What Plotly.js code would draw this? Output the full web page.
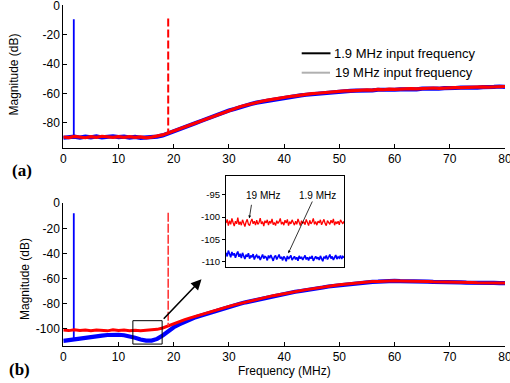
<!DOCTYPE html>
<html>
<head>
<meta charset="utf-8">
<script src="https://cdn.plot.ly/plotly-3.0.1.min.js"></script>
<style>html,body{margin:0;padding:0;background:#fff;}#chart{width:510px;height:383px;}</style>
</head>
<body>
<div id="chart"></div>
<script>
// ---- data ----
var freq = [0,1,2,3,4,5,6,7,8,9,10,11,12,13,14,15,16,17,18,19,20,21,22,23,24,25,26,27,28,29,30,31,32,33,34,35,36,37,38,39,40,41,42,43,44,45,46,47,48,49,50,51,52,53,54,55,56,57,58,59,60,61,62,63,64,65,66,67,68,69,70,71,72,73,74,75,76,77,78,79,80];

// (a) 1.9 MHz input (blue) and 19 MHz input (red)
var topBlue = [-90.2,-89.6,-89.5,-90.1,-89.4,-89.9,-89.3,-90.0,-89.5,-89.2,-89.8,-89.4,-90.1,-89.6,-90.3,-89.9,-90.2,-89.4,-88.6,-87.3,-85.8,-84.6,-83.0,-81.6,-80.1,-78.7,-77.2,-75.9,-74.4,-73.0,-71.6,-70.6,-69.3,-68.4,-67.2,-66.3,-65.6,-64.9,-64.1,-63.6,-62.9,-62.4,-61.9,-61.3,-60.9,-60.5,-60.0,-59.8,-59.3,-59.0,-58.7,-58.6,-58.3,-58.1,-58.2,-57.8,-57.9,-57.5,-57.7,-57.4,-57.5,-57.2,-57.3,-57.0,-57.2,-56.8,-56.9,-56.6,-56.8,-56.4,-56.6,-56.3,-56.1,-56.3,-55.9,-56.1,-55.7,-55.9,-55.6,-55.3,-55.5];
var topRed = [-89.7,-90.1,-89.3,-89.8,-90.2,-89.5,-89.9,-89.2,-89.7,-90.0,-89.4,-89.9,-89.5,-90.0,-89.6,-90.3,-89.8,-89.1,-88.3,-87.0,-85.6,-84.3,-82.7,-81.4,-79.8,-78.5,-77.0,-75.6,-74.2,-72.8,-71.4,-70.3,-69.1,-68.1,-67.0,-66.1,-65.3,-64.6,-63.9,-63.3,-62.7,-62.1,-61.7,-61.1,-60.7,-60.2,-59.9,-59.5,-59.2,-58.8,-58.6,-58.3,-58.2,-57.9,-57.9,-57.6,-57.7,-57.3,-57.5,-57.1,-57.3,-57.0,-57.1,-56.8,-56.9,-56.6,-56.7,-56.3,-56.5,-56.2,-56.3,-56.0,-56.1,-55.9,-55.8,-55.9,-55.5,-55.7,-55.4,-55.2,-55.3];

// (b)
var botBlue = [-109.5,-108.8,-108.3,-107.9,-107.2,-106.6,-106.0,-105.3,-104.8,-104.5,-104.6,-105.0,-105.8,-107.0,-108.4,-109.3,-109.2,-107.9,-105.2,-101.8,-98.6,-96.3,-94.2,-92.3,-90.6,-89.2,-87.8,-86.3,-85.0,-83.6,-82.4,-81.1,-80.0,-78.8,-77.8,-76.6,-75.6,-74.7,-73.6,-72.9,-72.0,-71.3,-70.4,-69.8,-68.9,-68.4,-67.5,-67.0,-66.2,-65.7,-64.9,-64.5,-63.9,-63.6,-63.1,-62.9,-62.5,-62.4,-62.0,-62.1,-61.8,-62.0,-61.9,-62.2,-62.1,-62.4,-62.3,-62.6,-62.5,-62.8,-62.7,-63.0,-62.9,-63.2,-63.1,-63.4,-63.2,-63.5,-63.4,-63.6,-63.5];
var botRed = [-100.8,-101.3,-100.6,-101.2,-100.9,-101.4,-100.8,-101.0,-101.5,-100.7,-101.2,-100.9,-101.4,-101.0,-101.5,-101.1,-100.8,-100.3,-99.2,-97.4,-95.6,-94.1,-92.6,-91.2,-89.8,-88.4,-87.1,-85.8,-84.5,-83.3,-82.0,-80.8,-79.7,-78.6,-77.5,-76.5,-75.4,-74.5,-73.5,-72.7,-71.8,-71.0,-70.2,-69.5,-68.7,-68.1,-67.3,-66.7,-66.0,-65.5,-64.8,-64.3,-63.8,-63.4,-62.9,-62.7,-62.3,-62.2,-61.9,-61.9,-61.7,-61.8,-61.8,-62.0,-62.0,-62.2,-62.2,-62.4,-62.4,-62.6,-62.6,-62.8,-62.8,-63.0,-63.0,-63.2,-63.1,-63.3,-63.3,-63.4,-63.4];

// 1.9 MHz tone spike (blue) and 19 MHz tone marker (red dashed)
var spikeX = [1.9,1.9];
var spikeTopY = [-89.5,-9.5];
var spikeBotY = [-108.5,-8.0];
var toneX = [19,19];
var toneTopY = [-9.0,-87.0];
var toneBotY = [-7.5,-97.4];

// inset (zoom of 13-18 MHz in (b))
var insetFreq = [13.00,13.05,13.10,13.15,13.20,13.25,13.30,13.35,13.40,13.45,13.50,13.55,13.60,13.65,13.70,13.75,13.80,13.85,13.90,13.95,
  14.00,14.05,14.10,14.15,14.20,14.25,14.30,14.35,14.40,14.45,14.50,14.55,14.60,14.65,14.70,14.75,14.80,14.85,14.90,14.95,
  15.00,15.05,15.10,15.15,15.20,15.25,15.30,15.35,15.40,15.45,15.50,15.55,15.60,15.65,15.70,15.75,15.80,15.85,15.90,15.95,
  16.00,16.05,16.10,16.15,16.20,16.25,16.30,16.35,16.40,16.45,16.50,16.55,16.60,16.65,16.70,16.75,16.80,16.85,16.90,16.95,
  17.00,17.05,17.10,17.15,17.20,17.25,17.30,17.35,17.40,17.45,17.50,17.55,17.60,17.65,17.70,17.75,17.80,17.85,17.90,17.95,18.00];
var insetRed = [-101.3,-100.5,-101.9,-100.8,-101.6,-100.3,-101.2,-102.0,-100.9,-101.5,
  -100.1,-101.7,-101.0,-101.8,-100.6,-101.4,-102.1,-101.1,-100.5,-101.6,
  -101.9,-101.0,-100.4,-101.5,-100.9,-101.8,-100.7,-101.6,-101.2,-100.2,
  -101.5,-101.0,-102.0,-100.8,-101.3,-100.6,-101.8,-100.9,-101.4,-100.4,
  -101.7,-101.2,-101.9,-100.8,-101.4,-101.0,-100.3,-101.6,-101.1,-101.8,
  -100.7,-101.3,-100.5,-101.9,-101.0,-101.5,-100.6,-101.2,-101.8,-100.9,
  -101.6,-100.4,-101.3,-101.9,-100.8,-101.4,-101.0,-101.7,-100.5,-101.2,
  -101.9,-100.7,-101.5,-101.1,-100.3,-101.6,-101.0,-101.8,-100.9,-101.3,
  -100.6,-101.7,-101.1,-100.5,-101.4,-101.9,-100.8,-101.2,-101.6,-100.7,
  -101.3,-100.4,-101.8,-101.0,-101.5,-100.9,-101.7,-100.6,-101.2,-101.5,-100.9];
var insetBlue = [-108.0,-108.8,-107.5,-108.4,-109.0,-107.8,-108.6,-108.1,-109.1,-108.3,
  -107.7,-108.9,-108.2,-109.2,-108.0,-108.7,-109.4,-108.4,-108.9,-108.1,
  -109.3,-108.6,-109.0,-108.3,-109.5,-108.8,-108.5,-109.2,-108.7,-109.6,
  -108.9,-108.4,-109.3,-108.8,-109.0,-109.7,-108.6,-109.2,-108.5,-109.4,
  -109.8,-108.9,-108.6,-109.5,-109.0,-108.4,-109.3,-108.9,-109.7,-108.8,
  -109.2,-109.9,-108.7,-109.4,-109.0,-108.6,-109.6,-109.1,-108.8,-109.5,
  -109.0,-109.8,-108.7,-109.3,-108.9,-109.6,-109.2,-108.6,-109.5,-109.0,
  -109.7,-108.9,-109.3,-108.7,-109.8,-109.1,-108.8,-109.4,-109.0,-109.6,
  -108.7,-109.3,-109.9,-108.9,-109.2,-108.6,-109.5,-109.0,-108.4,-109.3,
  -108.8,-109.6,-109.1,-108.5,-109.4,-108.9,-109.2,-108.6,-109.4,-108.8,-109.1];

// tick labels
var xTicks = [0,10,20,30,40,50,60,70,80];
var xTickText = ['0','10','20','30','40','50','60','70','80'];
var yTopTicks = [-80,-60,-40,-20,0];
var yTopText = ['-80','-60','-40','-20','0'];
var yBotTicks = [-100,-80,-60,-40,-20,0];
var yBotText = ['-100','-80','-60','-40','-20','0'];
var yInsetTicks = [-110,-105,-100,-95];
var yInsetText = ['-110','-105','-100','-95'];

var legendLabels = ['1.9 MHz input frequency','19 MHz input frequency'];

// ---- drawing ----
var W = 510, H = 383;
function px(x){return x/W;}
function py(y){return 1-y/H;}
var FONT = 'Liberation Sans, Arial, sans-serif';
var BLUE = '#0000ff', RED = '#ff0000';

var traces = [
  {x:freq, y:topBlue, xaxis:'x', yaxis:'y', mode:'lines', line:{color:BLUE, width:4.2}, hoverinfo:'skip'},
  {x:spikeX, y:spikeTopY, xaxis:'x', yaxis:'y', mode:'lines', line:{color:BLUE, width:1.8}, hoverinfo:'skip'},
  {x:freq, y:topRed, xaxis:'x', yaxis:'y', mode:'lines', line:{color:RED, width:3.2}, hoverinfo:'skip'},
  {x:toneX, y:toneTopY, xaxis:'x', yaxis:'y', mode:'lines', line:{color:RED, width:2, dash:'8px,3px'}, hoverinfo:'skip'},
  {x:freq, y:botBlue, xaxis:'x2', yaxis:'y2', mode:'lines', line:{color:BLUE, width:4.2}, hoverinfo:'skip'},
  {x:spikeX, y:spikeBotY, xaxis:'x2', yaxis:'y2', mode:'lines', line:{color:BLUE, width:1.8}, hoverinfo:'skip'},
  {x:freq, y:botRed, xaxis:'x2', yaxis:'y2', mode:'lines', line:{color:RED, width:3.0}, hoverinfo:'skip'},
  {x:toneX, y:toneBotY, xaxis:'x2', yaxis:'y2', mode:'lines', line:{color:'#ff3a3a', width:1.6, dash:'9px,2px'}, hoverinfo:'skip'},
  {x:insetFreq, y:insetRed, xaxis:'x3', yaxis:'y3', mode:'lines', line:{color:RED, width:1.3}, hoverinfo:'skip'},
  {x:insetFreq, y:insetBlue, xaxis:'x3', yaxis:'y3', mode:'lines', line:{color:BLUE, width:1.6}, hoverinfo:'skip'}
];

var axBase = {showgrid:false, zeroline:false, showline:true, linecolor:'#000', linewidth:1,
  ticks:'inside', ticklen:4, tickcolor:'#000', tickfont:{family:FONT, size:12, color:'#000'}, mirror:false,
  ticklabeloverflow:'allow'};

function ax(extra){var o={}; for(var k in axBase){o[k]=axBase[k];} for(var k2 in extra){o[k2]=extra[k2];} return o;}

var layout = {
  width:W, height:H,
  margin:{l:0,r:0,t:0,b:0},
  paper_bgcolor:'#fff', plot_bgcolor:'rgba(0,0,0,0)',
  showlegend:false,
  font:{family:FONT, size:12, color:'#000'},
  xaxis: ax({domain:[px(63.3),px(505)], range:[0,80], anchor:'y', tickmode:'array', tickvals:xTicks, ticktext:xTickText}),
  yaxis: ax({domain:[py(148),py(4.5)], range:[-97.2,0.6], anchor:'x', tickmode:'array', tickvals:yTopTicks, ticktext:yTopText}),
  xaxis2: ax({domain:[px(63.3),px(505)], range:[0,80], anchor:'y2', tickmode:'array', tickvals:xTicks, ticktext:xTickText}),
  yaxis2: ax({domain:[py(345.7),py(202.5)], range:[-113.3,0.6], anchor:'x2', tickmode:'array', tickvals:yBotTicks, ticktext:yBotText}),
  xaxis3: ax({domain:[px(226),px(344)], range:[13,18], anchor:'y3', showticklabels:false, ticks:'', mirror:true}),
  yaxis3: ax({domain:[py(267.3),py(175.7)], range:[-111.25,-90.7], anchor:'x3', mirror:true, ticks:'outside', ticklen:3,
    tickmode:'array', tickvals:yInsetTicks, ticktext:yInsetText, tickfont:{family:FONT, size:9.5, color:'#000'}}),
  shapes:[
    {type:'rect', xref:'x2', yref:'y2', x0:12.6, x1:17.9, y0:-112, y1:-93.4, line:{color:'#000', width:1}},
    {type:'line', xref:'paper', yref:'paper', x0:px(301.7), x1:px(330.5), y0:py(53.3), y1:py(53.3), line:{color:'#000', width:2}},
    {type:'line', xref:'paper', yref:'paper', x0:px(301.7), x1:px(330), y0:py(72.7), y1:py(72.7), line:{color:'#b0b0b0', width:2}}
  ],
  annotations:[
    {text:legendLabels[0], xref:'paper', yref:'paper', x:px(331.5), y:py(53.3), xanchor:'left', yanchor:'middle', showarrow:false, font:{family:FONT, size:13, color:'#000'}},
    {text:legendLabels[1], xref:'paper', yref:'paper', x:px(332.5), y:py(72.7), xanchor:'left', yanchor:'middle', showarrow:false, font:{family:FONT, size:13, color:'#000'}},
    {text:'Magnitude (dB)', xref:'paper', yref:'paper', x:px(13.5), y:py(75), textangle:-90, xanchor:'center', yanchor:'middle', showarrow:false, font:{family:FONT, size:12, color:'#000'}},
    {text:'Magnitude (dB)', xref:'paper', yref:'paper', x:px(25), y:py(279), textangle:-90, xanchor:'center', yanchor:'middle', showarrow:false, font:{family:FONT, size:12, color:'#000'}},
    {text:'Frequency (MHz)', xref:'paper', yref:'paper', x:px(284), y:py(371), xanchor:'center', yanchor:'middle', showarrow:false, font:{family:FONT, size:12, color:'#000'}},
    {text:'<b>(a)</b>', xref:'paper', yref:'paper', x:px(10), y:py(170), xanchor:'left', yanchor:'middle', showarrow:false, font:{family:'Liberation Serif, Times New Roman, serif', size:17, color:'#000'}},
    {text:'<b>(b)</b>', xref:'paper', yref:'paper', x:px(7), y:py(369), xanchor:'left', yanchor:'middle', showarrow:false, font:{family:'Liberation Serif, Times New Roman, serif', size:17, color:'#000'}},
    {text:'19 MHz', xref:'paper', yref:'paper', x:px(262.5), y:py(195), xanchor:'center', yanchor:'middle', showarrow:false, font:{family:FONT, size:10, color:'#000'}},
    {text:'1.9 MHz', xref:'paper', yref:'paper', x:px(317), y:py(195), xanchor:'center', yanchor:'middle', showarrow:false, font:{family:FONT, size:10, color:'#000'}},
    {text:'', xref:'paper', yref:'paper', x:px(249.3), y:py(218.3), ax:2.4, ay:-15, showarrow:true, arrowhead:2, arrowsize:0.7, arrowwidth:0.8, arrowcolor:'#000'},
    {text:'', xref:'paper', yref:'paper', x:px(288.3), y:py(253.3), ax:24.7, ay:-53.3, showarrow:true, arrowhead:2, arrowsize:0.7, arrowwidth:0.8, arrowcolor:'#000'},
    {text:'', xref:'paper', yref:'paper', x:px(201.5), y:py(279.3), ax:-39.2, ay:41, showarrow:true, arrowhead:2, arrowsize:1.3, arrowwidth:1.6, arrowcolor:'#000'}
  ]
};

Plotly.newPlot('chart', traces, layout, {staticPlot:true, displayModeBar:false});
</script>
</body>
</html>
